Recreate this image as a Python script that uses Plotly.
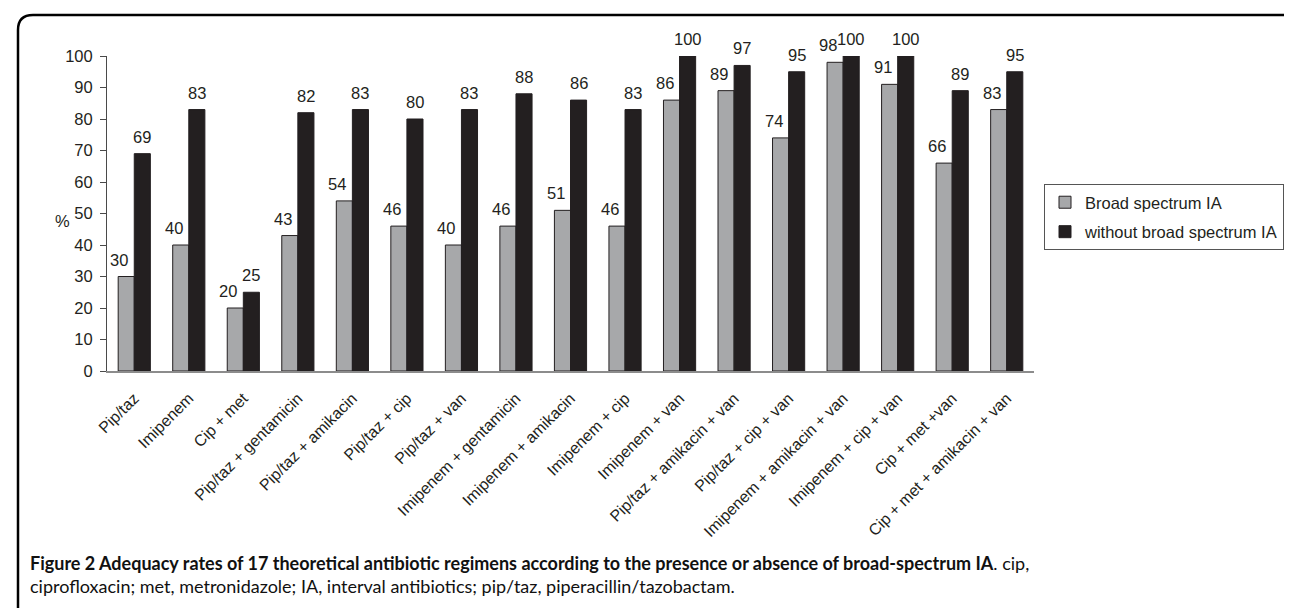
import plotly.graph_objects as go

categories = ["Pip/taz", "Imipenem", "Cip + met", "Pip/taz + gentamicin", "Pip/taz + amikacin",
              "Pip/taz + cip", "Pip/taz + van", "Imipenem + gentamicin", "Imipenem + amikacin",
              "Imipenem + cip", "Imipenem + van", "Pip/taz + amikacin + van", "Pip/taz + cip + van",
              "Imipenem + amikacin + van", "Imipenem + cip + van", "Cip + met +van",
              "Cip + met + amikacin + van"]
broad = [30, 40, 20, 43, 54, 46, 40, 46, 51, 46, 86, 89, 74, 98, 91, 66, 83]
without = [69, 83, 25, 82, 83, 80, 83, 88, 86, 83, 100, 97, 95, 100, 100, 89, 95]
series_names = ["Broad spectrum IA", "without broad spectrum IA"]
y_ticks = list(range(0, 101, 10))

W, H = 1292, 608
L, R, T, B = 99, 266, 48, 245
PW, PH = W - L - R, H - T - B
DARK = "#231f20"
GRAY = "#a7a8aa"
FONT = "Liberation Sans, Arial, sans-serif"


def px(x):
    return (x - L) / PW


def py(y):
    return (H - B - y) / PH


fig = go.Figure()
fig.add_trace(go.Bar(x=categories, y=broad, name=series_names[0], legendgroup="a",
                     marker=dict(color=GRAY, line=dict(color=DARK, width=1))))
fig.add_trace(go.Bar(x=categories, y=without, name=series_names[1], legendgroup="b",
                     marker=dict(color=DARK, line=dict(color=DARK, width=1))))

annotations = []
for c, v in zip(categories, broad):
    annotations.append(dict(x=c, y=v, xref="x", yref="y", text=str(v), showarrow=False,
                            xshift=-15, yshift=17, yanchor="middle",
                            font=dict(family=FONT, size=16.5, color=DARK)))
for c, v in zip(categories, without):
    annotations.append(dict(x=c, y=v, xref="x", yref="y", text=str(v), showarrow=False,
                            xshift=8, yshift=17, yanchor="middle",
                            font=dict(family=FONT, size=16.5, color=DARK)))

annotations.append(dict(x=px(54), y=py(213), xref="paper", yref="paper", text="%",
                        showarrow=False, xanchor="center", yanchor="middle",
                        font=dict(family=FONT, size=16.5, color=DARK)))

annotations.append(dict(x=px(20), y=py(566.5), xref="paper", yref="paper",
                        text="<b>Figure 2 Adequacy rates of 17 theoretical antibiotic regimens according to the presence or absence of broad-spectrum IA</b>. cip,"
                             "<br>ciprofloxacin; met, metronidazole; IA, interval antibiotics; pip/taz, piperacillin/tazobactam.",
                        showarrow=False, xanchor="left", yanchor="middle", align="left",
                        font=dict(family="Lato, sans-serif", size=18, color="#111")))

border = (f"M {px(10)},{py(615)} L {px(10)},{py(22)} Q {px(10)},{py(7)} {px(25)},{py(7)} "
          f"L {px(1280)},{py(7)} Q {px(1294)},{py(7)} {px(1294)},{py(21)} L {px(1294)},{py(615)}")

fig.update_layout(
    width=W, height=H,
    margin=dict(l=L, r=R, t=T, b=B, autoexpand=False),
    paper_bgcolor="white", plot_bgcolor="white",
    barmode="group", bargap=0.41, bargroupgap=0,
    font=dict(family=FONT, size=16, color=DARK),
    xaxis=dict(type="category", tickangle=-45, showline=True, linecolor="#8c8c8c", linewidth=1.5,
               ticks="", showgrid=False, tickfont=dict(family=FONT, size=16, color=DARK),
               ticklabelstandoff=10),
    yaxis=dict(range=[0, 100], tickvals=y_ticks, showline=True, linecolor="#4a4a4a", linewidth=1,
               ticks="outside", ticklen=6, tickcolor="#4a4a4a", showgrid=False, zeroline=False,
               tickfont=dict(family=FONT, size=16.5, color=DARK), ticklabelstandoff=4),
    legend=dict(x=px(1036), y=py(176), xanchor="left", yanchor="top",
                bordercolor="#555", borderwidth=1, bgcolor="white",
                font=dict(family=FONT, size=16.5, color=DARK), traceorder="grouped",
                tracegroupgap=5, itemwidth=30),
    showlegend=True,
    annotations=annotations,
    shapes=[dict(type="path", path=border, xref="paper", yref="paper",
                 line=dict(color="black", width=2.5))],
)

fig.write_html("out.html")
